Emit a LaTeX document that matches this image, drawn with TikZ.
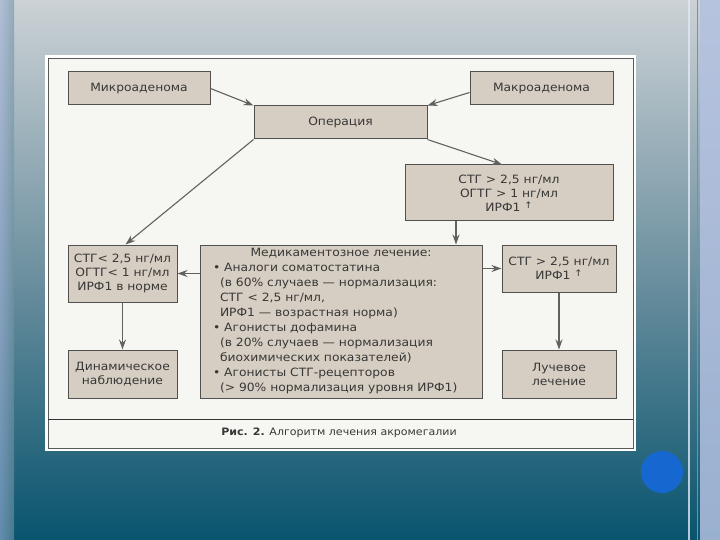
\documentclass[tikz,border=0pt]{standalone}
\usepackage{fontspec}
\setmainfont[FakeStretch=1.08]{DejaVu Sans}
\usetikzlibrary{arrows.meta}
\definecolor{boxfill}{RGB}{214,206,194}
\definecolor{boxline}{RGB}{80,80,78}
\definecolor{txt}{RGB}{55,55,55}
\definecolor{panel}{RGB}{246,246,243}
\definecolor{bgtop}{RGB}{204,210,214}
\definecolor{bgmid}{RGB}{110,145,160}
\definecolor{bgbot}{RGB}{8,84,110}
\definecolor{dotblue}{RGB}{22,104,208}
\definecolor{sideband}{RGB}{160,178,218}
\newcommand{\uparr}{\raisebox{3pt}{\fontsize{9}{9}\selectfont ↑}}
\tikzset{
  box/.style={draw=boxline, line width=1pt, fill=boxfill, text=txt, align=center,
    font=\fontsize{11.4}{14}\selectfont, inner sep=2pt},
  conn/.style={draw=boxline!90, line width=1.1pt, -{Stealth[length=10pt,width=7pt]}}
}
\begin{document}
\begin{tikzpicture}[x=1pt,y=-1pt]
\useasboundingbox (0,0) rectangle (720,540);
% background
\shade[top color=bgtop, bottom color=bgbot, middle color=bgmid] (0,0) rectangle (720,540);
\shade[left color=sideband, right color=sideband!0!bgmid, opacity=0.6] (0,0) rectangle (14,540);
\fill[sideband!80!white, opacity=0.85] (700,0) rectangle (720,540);
\draw[line width=1.2pt, white!70!sideband, opacity=0.8] (689,0) -- (689,540);
\draw[line width=1pt, blue!60!cyan!70!white] (697,0) -- (697,540);
% panel
\fill[white] (45,55) rectangle (636,451);
\draw[fill=panel, draw=gray!70!black, line width=0.8pt] (48,58) rectangle (633,448);
\draw[gray!40!black, line width=1pt] (48,419) -- (633,419);
\node[text=txt, font=\fontsize{10.2}{12}\selectfont] (cap) at (339,433) {\textbf{Рис. 2.} Алгоритм лечения акромегалии};
% boxes
\node[box, minimum width=142, minimum height=33] (micro) at (139,88.5) {Микроаденома};
\node[box, minimum width=143, minimum height=33] (macro) at (541.5,88.5) {Макроаденома};
\node[box, minimum width=173, minimum height=33] (oper) at (340.5,122.5) {Операция};
\node[box, minimum width=208, minimum height=56] (high) at (509,193) {СТГ > 2,5 нг/мл\\ОГТГ > 1 нг/мл\\ИРФ1 \uparr};
\node[box, minimum width=109, minimum height=57] (norm) at (122.5,273.5) {СТГ< 2,5 нг/мл\\ОГТГ< 1 нг/мл\\ИРФ1 в норме};
\node[box, minimum width=282, minimum height=153] (med) at (341,321.5) {\begin{minipage}{268pt}\fontsize{11.4}{15}\selectfont
\centering Медикаментозное лечение:\par\raggedright\leftskip=6pt
• Аналоги соматостатина\par
\hspace*{7pt}(в 60\% случаев — нормализация:\par
\hspace*{7pt}СТГ < 2,5 нг/мл,\par
\hspace*{7pt}ИРФ1 — возрастная норма)\par
• Агонисты дофамина\par
\hspace*{7pt}(в 20\% случаев — нормализация\par
\hspace*{7pt}биохимических показателей)\par
• Агонисты СТГ-рецепторов\par
\hspace*{7pt}(> 90\% нормализация уровня ИРФ1)\end{minipage}};
\node[box, minimum width=114, minimum height=47] (high2) at (559,268.5) {СТГ > 2,5 нг/мл\\ИРФ1 \uparr};
\node[box, minimum width=109, minimum height=48] (dyn) at (122.5,374) {Динамическое\\наблюдение};
\node[box, minimum width=114, minimum height=48] (ray) at (559,374) {Лучевое\\лечение};
% connectors
\draw[conn] (micro.east) -- (oper.north west);
\draw[conn] ([yshift=-4pt]macro.west) -- (oper.north east);
\draw[conn] (oper.south west) -- ([xshift=3pt]norm.north);
\draw[conn] (oper.south east) -- ([xshift=-7pt]high.north);
\path (456,0) coordinate (hx);
\draw[conn] (high.south -| hx) -- (med.north -| hx);
\draw[conn] (med.west |- norm.east) -- (norm.east);
\draw[conn] (med.east |- high2.west) -- (high2.west);
\draw[conn] (norm.south) -- (dyn.north);
\draw[conn] (high2.south) -- (ray.north);
% blue dot
\fill[dotblue] (662,472) circle (21);
\end{tikzpicture}
\end{document}
